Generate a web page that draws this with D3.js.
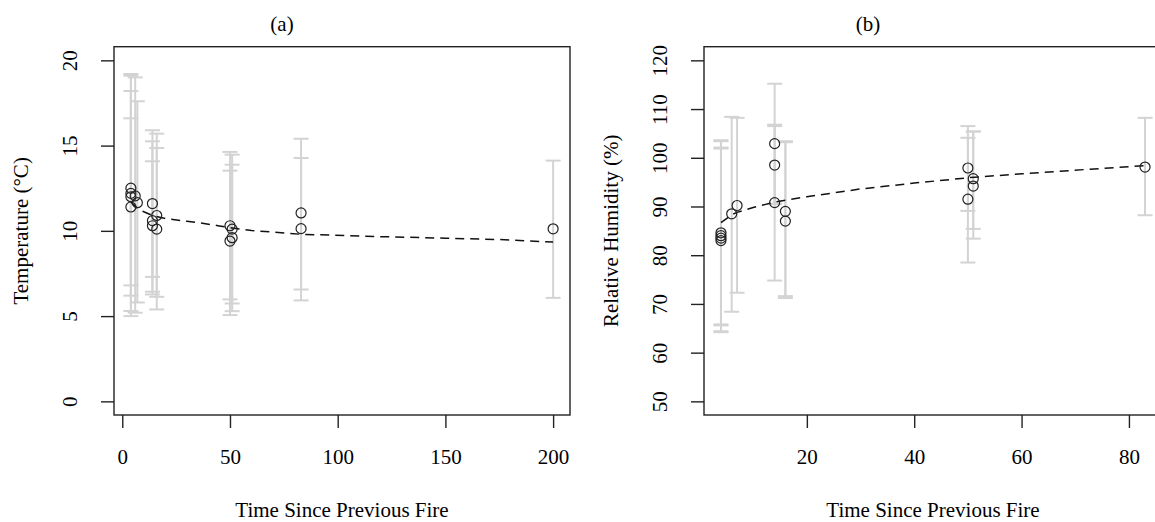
<!DOCTYPE html>
<html>
<head>
<meta charset="utf-8">
<script src="https://cdn.jsdelivr.net/npm/d3@7"></script>
<style>
  html, body { margin: 0; padding: 0; background: #fff; }
  svg { display: block; }
  text { font-family: "Liberation Serif", "Times New Roman", serif; fill: #000; }
</style>
</head>
<body>
<svg id="chart" width="1155" height="522"></svg>
<script>
// (a) temperature by time since previous fire
var timeA = [4, 4, 4, 4, 6, 7, 14, 14, 14, 16, 16, 50, 50, 51, 51, 83, 83, 200];
var tempMean = [12.5, 12.2, 12.0, 11.4, 12.05, 11.65, 11.6, 10.6, 10.3, 10.9, 10.1, 10.3, 9.4, 10.1, 9.6, 11.05, 10.13, 10.12];
var tempLow = [6.8, 5.3, 5.0, 6.2, 5.2, 5.8, 7.3, 6.27, 6.43, 6.13, 5.39, 5.98, 5.06, 5.74, 5.29, 6.56, 5.92, 6.07];
var tempHigh = [18.2, 19.2, 19.1, 16.6, 19.0, 17.6, 15.9, 15.25, 14.08, 15.7, 14.86, 14.63, 13.53, 14.47, 13.88, 15.4, 14.27, 14.12];
var fitTimeA = [4, 5.2, 7, 10, 14.5, 20, 30, 36, 45, 50, 60, 83, 104, 120, 150, 175, 200];
var fitTemp = [11.70, 11.54, 11.33, 11.12, 10.88, 10.72, 10.56, 10.47, 10.29, 10.18, 10.02, 9.80, 9.72, 9.66, 9.57, 9.49, 9.34];

// (b) relative humidity by time since previous fire
var timeB = [4, 4, 4, 4, 6, 7, 14, 14, 14, 16, 16, 50, 50, 51, 51, 83];
var rhMean = [84.6, 84.0, 83.5, 83.0, 88.5, 90.2, 102.9, 98.5, 90.8, 89.0, 87.0, 97.9, 91.5, 95.7, 94.2, 98.1];
var rhLow = [65.8, 65.6, 64.4, 64.2, 68.4, 72.3, 90.6, 90.5, 74.8, 71.6, 71.2, 89.1, 78.5, 85.4, 83.4, 88.2];
var rhHigh = [103.6, 103.4, 102.1, 101.9, 108.4, 108.2, 115.2, 106.5, 106.8, 103.2, 103.4, 106.5, 104.1, 105.4, 105.4, 108.2];
var fitTimeB = [4, 6, 7, 10, 14, 16, 20, 30, 40, 50, 60, 72, 83];
var fitRh = [86.7, 88.3, 88.8, 89.8, 90.9, 91.3, 92.0, 93.6, 94.8, 95.9, 96.7, 97.6, 98.4];

var ticksXA = [0, 50, 100, 150, 200];
var ticksYA = [0, 5, 10, 15, 20];
var ticksXB = [20, 40, 60, 80];
var ticksYB = [50, 60, 70, 80, 90, 100, 110, 120];

var FONT = 21;
var TICK = 13;
var svg = d3.select('#chart');

// R-style range: data extent padded by 4% each side
function padExtent(e) {
  var p = (e[1] - e[0]) * 0.04;
  return [e[0] - p, e[1] + p];
}

function drawPanel(cfg) {
  var x = d3.scaleLinear().domain(padExtent(d3.extent(cfg.time))).range([cfg.left, cfg.right]);
  var y = d3.scaleLinear().domain(padExtent(cfg.ylim)).range([cfg.bottom, cfg.top]);
  var g = svg.append('g');
  var rows = cfg.time.map(function (t, i) {
    return { t: t, v: cfg.value[i], lo: cfg.low[i], hi: cfg.high[i] };
  });

  // error bars
  var bars = g.append('g').attr('stroke', '#d3d3d3').attr('stroke-width', 2).attr('fill', 'none');
  rows.forEach(function (d) {
    var cx = x(d.t);
    bars.append('line').attr('x1', cx).attr('x2', cx).attr('y1', y(d.lo)).attr('y2', y(d.hi));
    bars.append('line').attr('x1', cx - 7.5).attr('x2', cx + 7.5).attr('y1', y(d.lo)).attr('y2', y(d.lo));
    bars.append('line').attr('x1', cx - 7.5).attr('x2', cx + 7.5).attr('y1', y(d.hi)).attr('y2', y(d.hi));
  });

  // fitted curve
  var line = d3.line().x(function (d) { return x(d[0]); }).y(function (d) { return y(d[1]); });
  g.append('path')
    .datum(d3.zip(cfg.fitTime, cfg.fitValue))
    .attr('d', line)
    .attr('fill', 'none')
    .attr('stroke', '#111')
    .attr('stroke-width', 1.5)
    .attr('stroke-dasharray', '9,6');

  g.append('g').selectAll('circle').data(rows).join('circle')
    .attr('cx', function (d) { return x(d.t); })
    .attr('cy', function (d) { return y(d.v); })
    .attr('r', 5)
    .attr('fill', 'none')
    .attr('stroke', '#222')
    .attr('stroke-width', 1.2);

  // box
  g.append('rect')
    .attr('x', cfg.left).attr('y', cfg.top)
    .attr('width', cfg.right - cfg.left).attr('height', cfg.bottom - cfg.top)
    .attr('fill', 'none').attr('stroke', '#222').attr('stroke-width', 1.4);

  var ax = g.append('g').attr('transform', 'translate(0,' + cfg.bottom + ')')
    .call(d3.axisBottom(x).tickValues(cfg.xTicks).tickSize(TICK).tickPadding(21).tickFormat(d3.format('d')));
  var ay = g.append('g').attr('transform', 'translate(' + cfg.left + ',0)')
    .call(d3.axisLeft(y).tickValues(cfg.yTicks).tickSize(TICK).tickFormat(d3.format('d')));
  [ax, ay].forEach(function (a) {
    a.select('.domain').remove();
    a.selectAll('.tick line').attr('stroke', '#222').attr('stroke-width', 1.4);
    a.selectAll('.tick text').attr('fill', '#000').style('font-size', FONT + 'px')
      .style('font-family', '"Liberation Serif", "Times New Roman", serif');
  });
  ay.selectAll('.tick text')
    .attr('text-anchor', 'middle')
    .attr('x', 0).attr('y', -37).attr('dy', null)
    .attr('transform', 'rotate(-90)');

  var mid = (cfg.left + cfg.right) / 2;
  g.append('text').attr('x', mid).attr('y', 517).attr('text-anchor', 'middle')
    .style('font-size', FONT + 'px').text('Time Since Previous Fire');
  g.append('text')
    .attr('transform', 'translate(' + (cfg.left - 86) + ',' + ((cfg.top + cfg.bottom) / 2) + ') rotate(-90)')
    .attr('text-anchor', 'middle').style('font-size', FONT + 'px').text(cfg.ylabel);
  g.append('text').attr('x', cfg.titleX).attr('y', 31).attr('text-anchor', 'middle')
    .style('font-size', FONT + 'px').text(cfg.title);
}

drawPanel({
  left: 114, right: 570, top: 46.7, bottom: 415,
  time: timeA, value: tempMean, low: tempLow, high: tempHigh,
  fitTime: fitTimeA, fitValue: fitTemp,
  ylim: [0, 20], xTicks: ticksXA, yTicks: ticksYA,
  ylabel: 'Temperature (\u00B0C)', title: '(a)', titleX: 282
});

drawPanel({
  left: 704, right: 1162, top: 46.7, bottom: 415,
  time: timeB, value: rhMean, low: rhLow, high: rhHigh,
  fitTime: fitTimeB, fitValue: fitRh,
  ylim: [50, 120], xTicks: ticksXB, yTicks: ticksYB,
  ylabel: 'Relative Humidity (%)', title: '(b)', titleX: 868
});
</script>
</body>
</html>
